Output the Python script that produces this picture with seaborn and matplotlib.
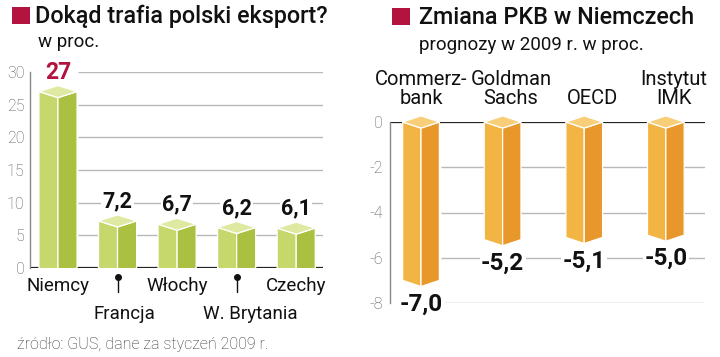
import matplotlib
matplotlib.use("Agg")
import matplotlib.pyplot as plt
import matplotlib.transforms as mtransforms
from matplotlib import font_manager as fm
from matplotlib.patches import Polygon, Rectangle
import seaborn as sns
import pandas as pd

# dane: struktura eksportu (w proc.)
countries = ["Niemcy", "Francja", "Włochy", "W. Brytania", "Czechy"]
export_share = [27, 7.2, 6.7, 6.2, 6.1]
export_labels = ["27", "7,2", "6,7", "6,2", "6,1"]
export_ticks = [0, 5, 10, 15, 20, 25, 30]

# dane: prognozy PKB Niemiec na 2009 r.
forecasters = ["Commerz-\nbank", "Goldman\nSachs", "OECD", "Instytut\nIMK"]
gdp_change = [-7.0, -5.2, -5.1, -5.0]
gdp_labels = ["-7,0", "-5,2", "-5,1", "-5,0"]
gdp_ticks = [0, -2, -4, -6, -8]

sns.set_style("white")
installed = {f.name for f in fm.fontManager.ttflist}
main_font = next((f for f in ["Roboto", "Liberation Sans"] if f in installed), "DejaVu Sans")
plt.rcParams['font.family'] = [main_font, 'DejaVu Sans']

CRIMSON = "#b3143f"
GRID = "#b8b8b8"
TICKC = "#555555"
GREEN = ("#c6d86c", "#a9c040", "#dfe9a2")
ORANGE = ("#f2b443", "#e8982a", "#f8cf78")


def draw_boxes(ax, top_vals, bottom_vals, depth, colors, clip):
    # rysuje "szesciany" na podstawie slupkow z seaborna
    front, side, cap = colors
    for p, top, bottom in zip(ax.patches, top_vals, bottom_vals):
        x0 = p.get_x()
        w = p.get_width()
        xc, x1 = x0 + w / 2, x0 + w
        left = [(x0, top), (xc, top - depth), (xc, bottom - depth), (x0, bottom)]
        right = [(xc, top - depth), (x1, top), (x1, bottom), (xc, bottom - depth)]
        lid = [(x0, top), (xc, top + depth), (x1, top), (xc, top - depth)]
        for pts, c in [(left, front), (right, side), (lid, cap)]:
            ax.add_patch(Polygon(pts, closed=True, facecolor=c, edgecolor="white",
                                 linewidth=0.9, zorder=3, clip_on=clip))
        p.set_visible(False)


fig = plt.figure(figsize=(7.2, 3.57), dpi=100)

# ---------------- lewy wykres ----------------
ax1 = fig.add_axes([30 / 720, 89 / 357, 293 / 720, 196 / 357])
df1 = pd.DataFrame({"kraj": countries, "udzial": export_share})
sns.barplot(data=df1, x="kraj", y="udzial", color=GREEN[0], width=0.64, ax=ax1)
ax1.set_xlim(-0.47, 4.45)
ax1.set_ylim(0, 30)
draw_boxes(ax1, export_share, [0] * len(export_share), 0.92, GREEN, True)

first = ax1.patches[0]
ax1.hlines(export_ticks[1:], first.get_x() + first.get_width() + 0.02, 4.45,
           color=GRID, linewidth=1, zorder=1)
ax1.axhline(0, color="#222222", linewidth=1.6, zorder=2)

ax1.set_yticks(export_ticks)
ax1.set_yticklabels([str(t) for t in export_ticks], color=TICKC, fontsize=11.5,
                    fontweight="light")
ax1.set_xticks([])
ax1.set_xlabel("")
ax1.set_ylabel("")
for s in ["top", "right", "bottom"]:
    ax1.spines[s].set_visible(False)
ax1.spines["left"].set_color("#888888")
ax1.spines["left"].set_linewidth(1)
ax1.tick_params(axis="y", direction="in", length=7, width=1, color="#888888", pad=4)

for i, (v, lab) in enumerate(zip(export_share, export_labels)):
    big = i == 0
    ax1.annotate(lab, (i, v), xytext=(0, 14), textcoords="offset points",
                 ha="center", va="center", fontsize=16.5 if big else 15.5,
                 fontweight="bold", color=CRIMSON if big else "#111111",
                 bbox=dict(facecolor="white", edgecolor="none", pad=1), zorder=5)

blend1 = mtransforms.blended_transform_factory(ax1.transData, ax1.transAxes)
for i, name in enumerate(countries):
    if i % 2 == 0:
        ax1.annotate(name, (i, 0), xytext=(0, -13), textcoords="offset points",
                     ha="center", va="center", fontsize=13.5, color="#111111")
    else:
        # szpilka przy podpisie przesunietym w dol
        ax1.plot([i, i], [-0.045, -0.12], transform=blend1, color="#111111",
                 linewidth=1, clip_on=False)
        ax1.plot([i], [-0.045], transform=blend1, marker="o", markersize=4,
                 color="#111111", clip_on=False)
        ax1.annotate(name, (i, 0), xytext=(5 if i == 1 else 10, -33),
                     textcoords="offset points", ha="center", va="center",
                     fontsize=13.5, color="#111111")

# ---------------- prawy wykres ----------------
ax2 = fig.add_axes([390 / 720, 54 / 357, 315 / 720, 181 / 357])
df2 = pd.DataFrame({"instytucja": forecasters, "zmiana": gdp_change})
sns.barplot(data=df2, x="instytucja", y="zmiana", color=ORANGE[0], width=0.45, ax=ax2)
ax2.set_xlim(-0.38, 3.48)
ax2.set_ylim(-8, 0)
draw_boxes(ax2, [0] * len(gdp_change), gdp_change, 0.27, ORANGE, False)

first = ax2.patches[0]
ax2.hlines(gdp_ticks[1:], first.get_x() + first.get_width() + 0.02, 3.48,
           color=GRID, linewidth=1, zorder=1)
ax2.axhline(0, color="#222222", linewidth=1.6, zorder=2)

ax2.set_yticks(gdp_ticks)
ax2.set_yticklabels([str(t) for t in gdp_ticks], color=TICKC, fontsize=11.5,
                    fontweight="light")
ax2.set_xticks([])
ax2.set_xlabel("")
ax2.set_ylabel("")
for s in ["top", "right", "bottom"]:
    ax2.spines[s].set_visible(False)
ax2.spines["left"].set_color("#888888")
ax2.spines["left"].set_linewidth(1)
ax2.tick_params(axis="y", direction="in", length=6, width=1, color="#888888", pad=5)

for i, (v, lab) in enumerate(zip(gdp_change, gdp_labels)):
    ax2.annotate(lab, (i, v), xytext=(0, -17), textcoords="offset points",
                 ha="center", va="center", fontsize=17.5, fontweight="bold",
                 color="#111111",
                 bbox=dict(facecolor="white", edgecolor="none", pad=1), zorder=5)

for i, name in enumerate(forecasters):
    ax2.annotate(name, (i, 0), xytext=(0 if i == 0 else 6, 10),
                 textcoords="offset points", ha="center", va="bottom",
                 fontsize=14.5, color="#111111", linespacing=1.0,
                 annotation_clip=False)

# ---------------- tytuly i zrodlo ----------------
fig.patches.append(Rectangle((12 / 720, 1 - 24 / 357), 18 / 720, 17 / 357,
                             transform=fig.transFigure, facecolor=CRIMSON,
                             edgecolor="none"))
fig.text(35 / 720, 1 - 23 / 357, "Dokąd trafia polski eksport?", fontsize=16.8,
         fontweight="medium", color="#111111", va="baseline")
fig.text(38 / 720, 1 - 47 / 357, "w proc.", fontsize=13.5, color="#111111",
         va="baseline")

fig.patches.append(Rectangle((392 / 720, 1 - 25 / 357), 18 / 720, 17 / 357,
                             transform=fig.transFigure, facecolor=CRIMSON,
                             edgecolor="none"))
fig.text(419 / 720, 1 - 24 / 357, "Zmiana PKB w Niemczech", fontsize=16.8,
         fontweight="medium", color="#111111", va="baseline")
fig.text(419 / 720, 1 - 50 / 357, "prognozy w 2009 r. w proc.", fontsize=13.5,
         color="#111111", va="baseline")

fig.text(17 / 720, 1 - 349 / 357, "źródło: GUS, dane za styczeń 2009 r.",
         fontsize=11.5, fontweight="light", color="#333333", va="baseline")

fig.savefig("out.png", dpi=100)
